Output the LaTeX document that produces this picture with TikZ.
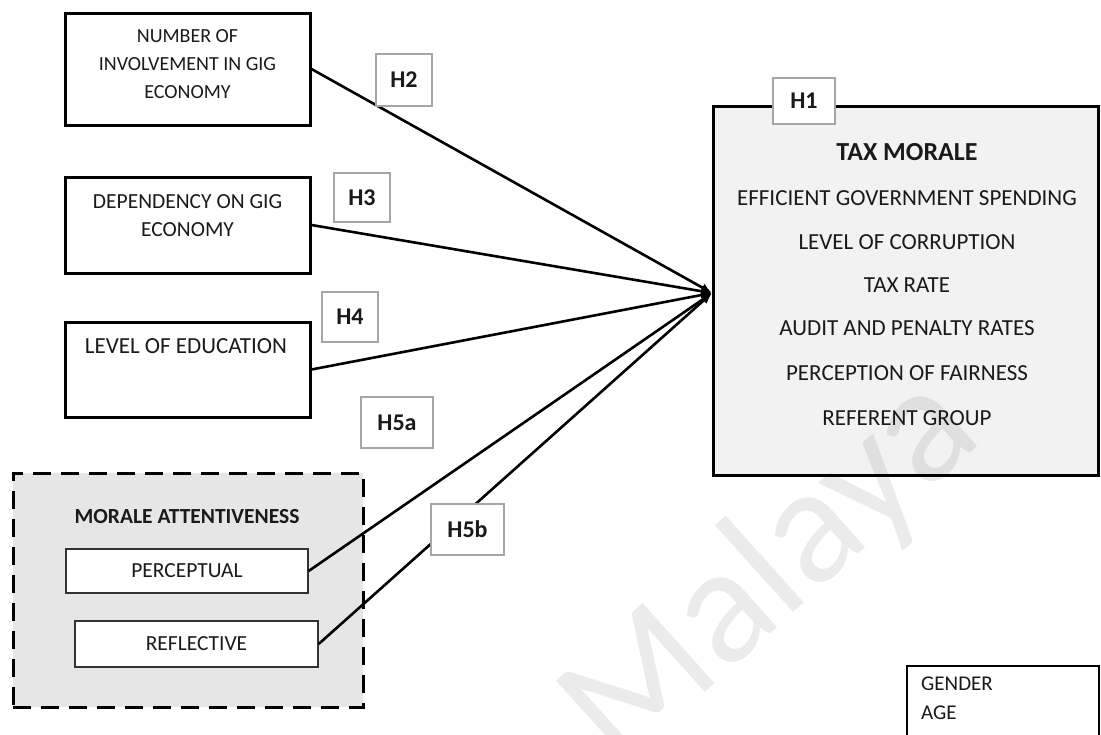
\documentclass[tikz,border=0pt]{standalone}
\usepackage{fontspec}
\setmainfont{Carlito}
\usetikzlibrary{arrows.meta,calc}
\definecolor{ink}{HTML}{1A1A1A}
\definecolor{hgray}{HTML}{A6A6A6}
\definecolor{dashfill}{HTML}{E6E6E6}
\definecolor{taxfill}{HTML}{F2F2F2}
\begin{document}
\begin{tikzpicture}[x=1pt,y=-1pt,
  bigbox/.style={draw=black, line width=3pt, fill=white, inner sep=0pt},
  smallbox/.style={draw=black!80, line width=1.3pt, fill=white, inner sep=0pt},
  hbox/.style={draw=hgray, line width=2.5pt, fill=white, inner sep=0pt, text=ink, font=\fontsize{24}{28}\selectfont\bfseries},
  link/.style={line width=2.6pt, -{Latex[length=11pt,width=9pt]}},
  txt/.style={inner sep=0pt, align=center, text=ink},
]
\useasboundingbox (0,0) rectangle (1101,734);

% left boxes
\node[bigbox, minimum width=245pt, minimum height=112pt] (b1) at (187.5,69) {};
\node[txt, font=\fontsize{20}{28}\selectfont] (t1) at (187.5,64) {NUMBER OF\\INVOLVEMENT IN GIG\\ECONOMY};

\node[bigbox, minimum width=245pt, minimum height=96pt] (b2) at (187.5,225) {};
\node[txt, font=\fontsize{21.5}{28}\selectfont] (t2) at (187.5,216) {DEPENDENCY ON GIG\\ECONOMY};

\node[bigbox, minimum width=245pt, minimum height=95pt] (b3) at (187.5,369.5) {};
\node[txt, font=\fontsize{23}{28}\selectfont] (t3) at (186,346) {LEVEL OF EDUCATION};

% morale attentiveness group
\node[draw=black, line width=3pt, dash pattern=on 18pt off 10pt, fill=dashfill, minimum width=350pt, minimum height=234pt, inner sep=0pt] (ma) at (188,590) {};
\node[txt, font=\fontsize{21.5}{26}\selectfont\bfseries] (mat) at (187,517) {MORALE ATTENTIVENESS};
\node[smallbox, minimum width=242pt, minimum height=44pt] (per) at (187,571) {};
\node[txt, font=\fontsize{21.5}{26}\selectfont] (pert) at (187,571) {PERCEPTUAL};
\node[smallbox, minimum width=243pt, minimum height=46pt] (ref) at (196.5,644) {};
\node[txt, font=\fontsize{21.5}{26}\selectfont] (reft) at (196.5,644) {REFLECTIVE};

% tax morale box
\node[draw=black, line width=3pt, fill=taxfill, minimum width=385pt, minimum height=369pt, inner sep=0pt] (tax) at (906,290.5) {};
\node[txt, font=\fontsize{26}{30}\selectfont\bfseries] (tm0) at (907,152) {TAX MORALE};
\node[txt, font=\fontsize{23}{28}\selectfont] (tm1) at (907,198) {EFFICIENT GOVERNMENT SPENDING};
\node[txt, font=\fontsize{23}{28}\selectfont] (tm2) at (907,242) {LEVEL OF CORRUPTION};
\node[txt, font=\fontsize{23}{28}\selectfont] (tm3) at (907,285) {TAX RATE};
\node[txt, font=\fontsize{23}{28}\selectfont] (tm4) at (907,328) {AUDIT AND PENALTY RATES};
\node[txt, font=\fontsize{23}{28}\selectfont] (tm5) at (907,373) {PERCEPTION OF FAIRNESS};
\node[txt, font=\fontsize{23}{28}\selectfont] (tm6) at (907,418) {REFERENT GROUP};

% control variables box (cut by page edge)
\node[draw=black, line width=1.5pt, fill=white, minimum width=192pt, minimum height=90pt, inner sep=0pt] (ctl) at (1003,711) {};
\node[txt, align=left, anchor=north west, font=\fontsize{21}{29}\selectfont] (ctlt) at (921,677) {GENDER\\AGE};

% connectors
\coordinate (tip) at ($(tax.west)+(0,2.5)$);
\draw[link] (b1.east) -- (tip);
\draw[link] (b2.east) -- (tip);
\draw[link] (b3.east) -- (tip);
\draw[link] (per.east) -- (tip);
\draw[link] (ref.east) -- (tip);

% hypothesis labels
\node[hbox, minimum width=56pt, minimum height=52pt] (h2) at (404,80) {H2};
\node[hbox, minimum width=56pt, minimum height=49pt] (h3) at (362,197.5) {H3};
\node[hbox, minimum width=56pt, minimum height=50pt] (h4) at (350,317) {H4};
\node[hbox, minimum width=72pt, minimum height=51pt] (h5a) at (397,422.5) {H5a};
\node[hbox, minimum width=73pt, minimum height=51pt] (h5b) at (467.5,529.5) {H5b};
\node[hbox, minimum width=62pt, minimum height=46pt] (h1) at (804,101) {H1};

% watermark
\node[rotate=42, text=black, text opacity=0.08, inner sep=0pt, font=\fontsize{168}{168}\selectfont] (wm) at (772,572) {Malaya};
\end{tikzpicture}
\end{document}
